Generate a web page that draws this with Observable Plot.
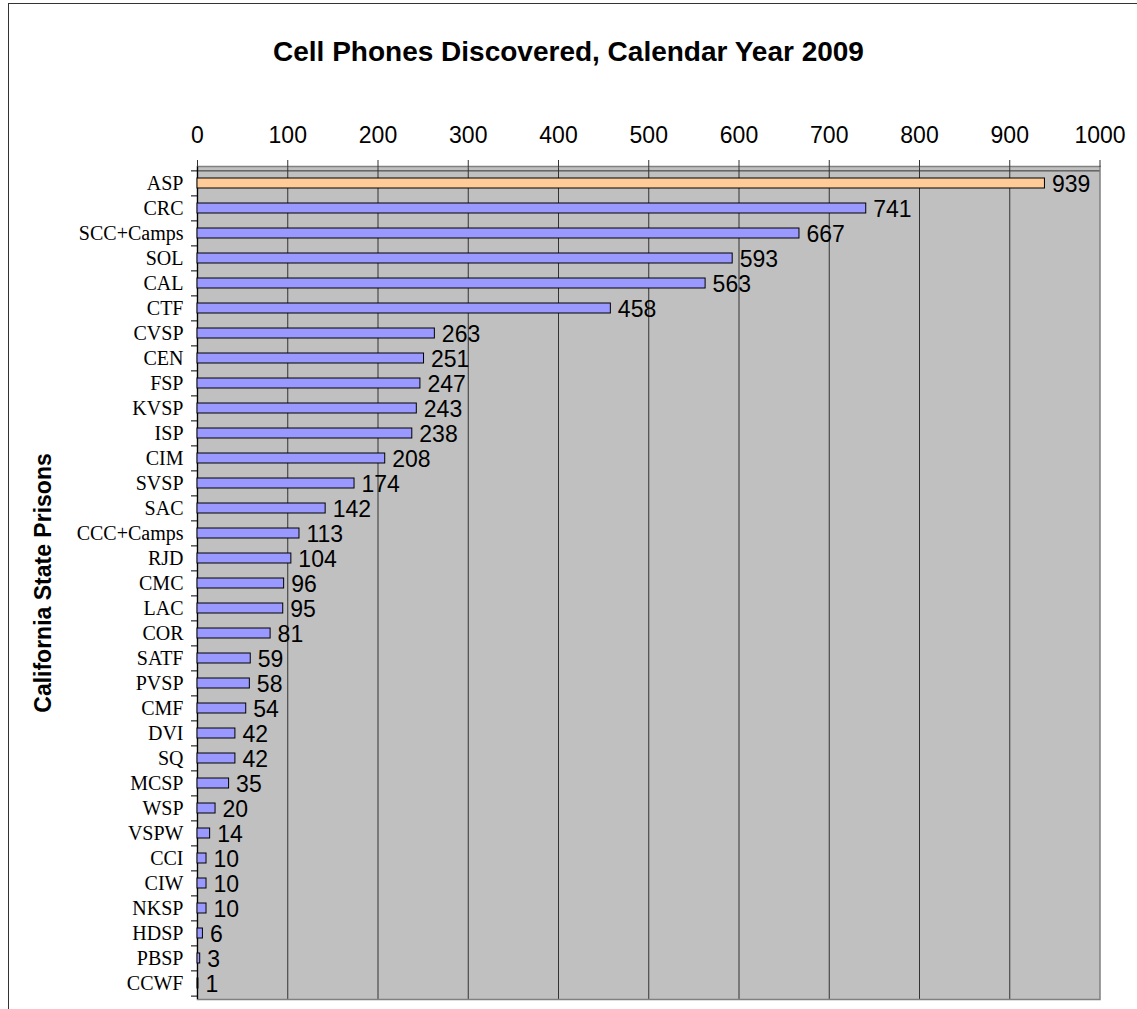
<!DOCTYPE html>
<html>
<head>
<meta charset="utf-8">
<script src="https://cdn.jsdelivr.net/npm/d3@7"></script>
<script src="https://cdn.jsdelivr.net/npm/@observablehq/plot@0.6"></script>
<style>
  html, body { margin: 0; padding: 0; background: #fff; }
  body { width: 1137px; height: 1009px; overflow: hidden; position: relative; }
  #frame {
    position: absolute; left: 8px; top: 3px; width: 1300px; height: 1200px;
    border: 1.5px solid #333; box-sizing: border-box; pointer-events: none;
  }
  #title {
    height: 80px; box-sizing: border-box; padding-top: 38px;
    font: bold 28px "Liberation Sans", Arial, sans-serif; line-height: 1;
    text-align: center; color: #000;
  }
  #chart svg { display: block; }
</style>
</head>
<body>
<div id="frame"></div>
<div id="title">Cell Phones Discovered, Calendar Year 2009</div>
<div id="chart"></div>
<script>
// Prisons, in the order they are listed
const prisons = ["ASP","CRC","SCC+Camps","SOL","CAL","CTF","CVSP","CEN","FSP","KVSP","ISP","CIM","SVSP","SAC","CCC+Camps","RJD","CMC","LAC","COR","SATF","PVSP","CMF","DVI","SQ","MCSP","WSP","VSPW","CCI","CIW","NKSP","HDSP","PBSP","CCWF"];
// Cell phones discovered in each prison
const phones = [939,741,667,593,563,458,263,251,247,243,238,208,174,142,113,104,96,95,81,59,58,54,42,42,35,20,14,10,10,10,6,3,1];
// Prison drawn in the highlight colour
const highlighted = ["ASP"];
const xTicks = [0,100,200,300,400,500,600,700,800,900,1000];
const yTitle = "California State Prisons";

const data = prisons.map((p, i) => ({prison: p, count: phones[i]}));

const width = 1137, height = 929;
const marginTop = 86, marginBottom = 10, marginLeft = 197, marginRight = 37.5;
const step = (height - marginTop - marginBottom) / prisons.length;
const sans = "'Liberation Sans', Arial, sans-serif";
const serif = "'Liberation Serif', 'Times New Roman', serif";

const chart = Plot.plot({
  width, height, marginTop, marginBottom, marginLeft, marginRight,
  style: {fontFamily: sans, color: "#000", background: "transparent"},
  x: {domain: [0, 1000]},
  y: {domain: prisons, paddingInner: 0.6, paddingOuter: 0.3},
  color: {type: "identity"},
  marks: [
    Plot.frame({fill: "#c0c0c0", stroke: null}),
    Plot.ruleX(xTicks.slice(1, -1), {stroke: "#333", strokeWidth: 1}),
    Plot.frame({stroke: "#808080", strokeWidth: 1.5}),
    Plot.ruleY([prisons[0]], {stroke: "#333", dy: -step / 2}),
    Plot.ruleX([0], {stroke: "#000", strokeWidth: 1.2}),
    Plot.barX(data, {
      x: "count", y: "prison",
      fill: d => highlighted.includes(d.prison) ? "#ffcc99" : "#9999ff",
      stroke: "#000", strokeWidth: 1
    }),
    Plot.text(data, {
      x: "count", y: "prison", text: d => String(d.count),
      dx: 7, dy: 1, textAnchor: "start", fontSize: 23, fontFamily: sans, fill: "#000"
    }),
    Plot.axisX({
      anchor: "top", ticks: xTicks, tickFormat: d => String(d), tickSize: 7, tickPadding: 17,
      fontSize: 23, fontFamily: sans, label: null, stroke: "#333"
    }),
    // category labels, centred in each band
    Plot.axisY({
      anchor: "left", tickSize: 0, tickPadding: 14,
      fontSize: 20, fontFamily: serif, label: null
    }),
    // tick marks on the band boundaries
    Plot.axisY({anchor: "left", text: null, tickSize: 6, dy: -step / 2, label: null, stroke: "#000"}),
    Plot.axisY({anchor: "left", ticks: [prisons[prisons.length - 1]], text: null, tickSize: 6, dy: step / 2, label: null, stroke: "#000"}),
    Plot.text([yTitle], {
      text: d => d, frameAnchor: "left", textAnchor: "middle", dx: -154, rotate: -90,
      fontSize: 23, fontWeight: "bold", fontFamily: sans, fill: "#000"
    })
  ]
});

document.getElementById("chart").appendChild(chart);
</script>
</body>
</html>
